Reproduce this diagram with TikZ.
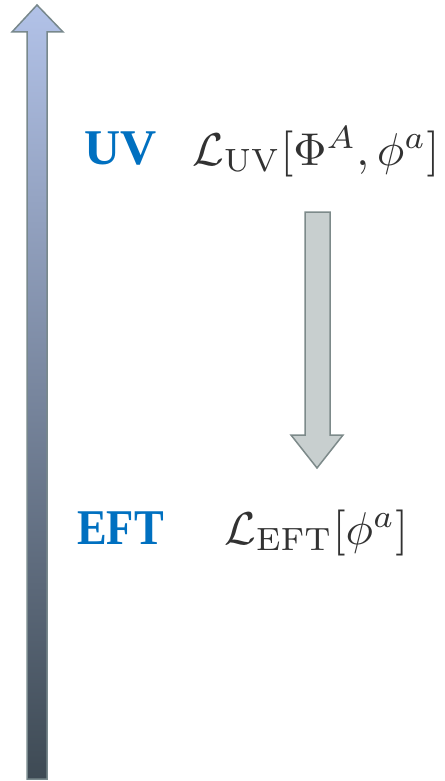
\documentclass[tikz,border=0pt]{standalone}
\usepackage{amsmath}
\usepackage{graphicx}
\usepackage{fontspec}
\newfontfamily\labfont{Liberation Serif}
\definecolor{labblue}{RGB}{0,112,192}
\definecolor{mathgray}{RGB}{50,50,50}
\definecolor{bigtop}{RGB}{178,194,232}
\definecolor{bigbot}{RGB}{62,74,84}
\definecolor{bigline}{RGB}{120,136,140}
\definecolor{downfill}{RGB}{200,207,207}
\definecolor{downline}{RGB}{125,138,138}
\begin{document}
\begin{tikzpicture}[x=1pt,y=-1pt,
  lab/.style={inner sep=0pt,anchor=base west,text=labblue,font=\labfont\fontsize{50}{60}\selectfont\bfseries},
  lag/.style={inner sep=0pt,anchor=base west,text=mathgray}]
\useasboundingbox (0,0) rectangle (444,781);
\shade[top color=bigtop,bottom color=bigbot,draw=bigline,line width=1.5pt,line join=miter]
  (27,779) -- (27,32) -- (12,32) -- (37,5) -- (63,32) -- (47,32) -- (47,779) -- cycle;
\filldraw[fill=downfill,draw=downline,line width=1.5pt]
  (305,212) -- (330,212) -- (330,435) -- (343,435) -- (317,468) -- (291,435) -- (305,435) -- cycle;
\node[lab] (uv) at (84,164) {UV};
\node[lag] (luv) at (192,165) {\scalebox{4.6}{$\mathcal{L}_{\mathrm{UV}}[\Phi^A,\phi^a]$}};
\node[lab] (eft) at (77,544) {\scalebox{0.89}[1]{EFT}};
\node[lag] (left) at (224,544) {\scalebox{4.6}{$\mathcal{L}_{\mathrm{EFT}}[\phi^a]$}};
\end{tikzpicture}
\end{document}
